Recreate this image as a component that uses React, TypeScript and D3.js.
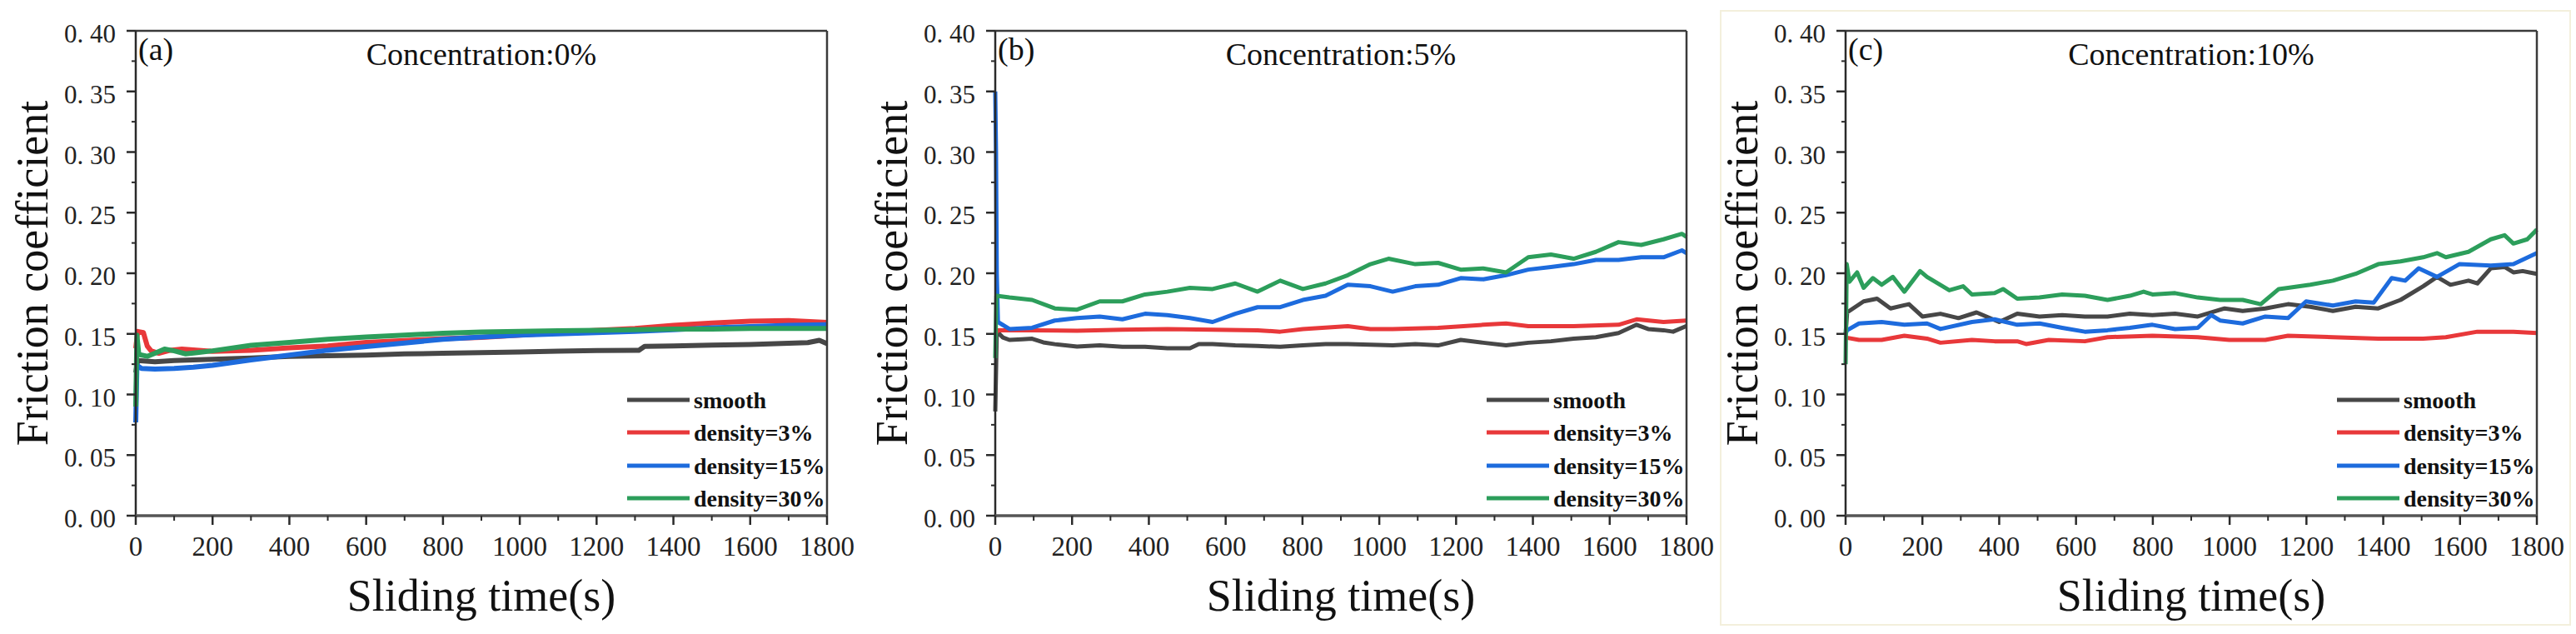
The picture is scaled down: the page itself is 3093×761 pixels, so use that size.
import React from 'react';
import * as d3 from 'd3';

type Pt = [number, number];

// ---- data (time s, friction coefficient) ----
const seriesNames = ['smooth', 'density=3%', 'density=15%', 'density=30%'];
const seriesColors = ['#474747', '#e8383a', '#1d6bdd', '#2c9e5b'];

const panelTags = ['(a)', '(b)', '(c)'];
const panelTitles = ['Concentration:0%', 'Concentration:5%', 'Concentration:10%'];

const xTicks = [0, 200, 400, 600, 800, 1000, 1200, 1400, 1600, 1800];
const xMinor = [100, 300, 500, 700, 900, 1100, 1300, 1500, 1700];
const yTicks = [0, 0.05, 0.1, 0.15, 0.2, 0.25, 0.3, 0.35, 0.4];
const yMinor = [0.025, 0.075, 0.125, 0.175, 0.225, 0.275, 0.325, 0.375];

const smoothA: Pt[] = [[0, 0.118], [5, 0.128], [50, 0.127], [100, 0.128], [200, 0.129], [300, 0.130], [400, 0.1315], [500, 0.132], [600, 0.1325], [700, 0.1335], [800, 0.134], [900, 0.1345], [1000, 0.135], [1100, 0.1358], [1200, 0.1362], [1310, 0.1365], [1325, 0.1397], [1400, 0.140], [1500, 0.1408], [1600, 0.1412], [1700, 0.1422], [1750, 0.1428], [1780, 0.1447], [1800, 0.142]];
const d3A: Pt[] = [[0, 0.138], [5, 0.152], [20, 0.151], [30, 0.140], [40, 0.136], [60, 0.134], [90, 0.1365], [120, 0.1375], [200, 0.1355], [300, 0.1365], [400, 0.1385], [500, 0.140], [600, 0.143], [700, 0.1445], [800, 0.146], [900, 0.147], [1000, 0.149], [1100, 0.151], [1200, 0.153], [1300, 0.1545], [1400, 0.157], [1500, 0.159], [1600, 0.1605], [1700, 0.161], [1800, 0.1595]];
const d15A: Pt[] = [[0, 0.077], [3, 0.124], [15, 0.1215], [50, 0.121], [100, 0.1215], [150, 0.1225], [200, 0.124], [300, 0.1285], [400, 0.1325], [500, 0.1365], [600, 0.1395], [700, 0.1425], [800, 0.1455], [900, 0.1475], [1000, 0.149], [1100, 0.150], [1200, 0.151], [1300, 0.152], [1400, 0.1535], [1500, 0.155], [1600, 0.156], [1700, 0.157], [1800, 0.1575]];
const d30A: Pt[] = [[0, 0.09], [3, 0.149], [8, 0.133], [30, 0.1315], [50, 0.134], [75, 0.1375], [100, 0.136], [130, 0.1335], [160, 0.1345], [200, 0.136], [300, 0.1405], [400, 0.143], [500, 0.1455], [600, 0.1475], [700, 0.149], [800, 0.1505], [900, 0.1515], [1000, 0.152], [1100, 0.1525], [1200, 0.153], [1300, 0.1535], [1400, 0.154], [1500, 0.154], [1600, 0.1545], [1700, 0.1545], [1800, 0.1545]];

const smoothB: Pt[] = [[0, 0.086], [4, 0.152], [20, 0.147], [37, 0.145], [70, 0.1455], [96, 0.146], [125, 0.143], [155, 0.1415], [213, 0.1395], [272, 0.1405], [331, 0.1393], [390, 0.1393], [448, 0.1382], [507, 0.1382], [530, 0.1416], [566, 0.1416], [625, 0.1405], [683, 0.140], [742, 0.1393], [801, 0.1405], [860, 0.1416], [918, 0.1416], [977, 0.141], [1035, 0.1405], [1094, 0.1416], [1153, 0.1405], [1212, 0.145], [1271, 0.1427], [1330, 0.1405], [1388, 0.1427], [1447, 0.1439], [1506, 0.146], [1564, 0.1473], [1623, 0.1507], [1670, 0.1575], [1700, 0.154], [1740, 0.153], [1765, 0.1518], [1800, 0.1565]];
const d3B: Pt[] = [[0, 0.15], [7, 0.153], [96, 0.153], [213, 0.1525], [331, 0.1535], [448, 0.154], [566, 0.1535], [683, 0.153], [742, 0.1518], [801, 0.154], [918, 0.1564], [977, 0.154], [1035, 0.154], [1153, 0.155], [1271, 0.1575], [1330, 0.1586], [1388, 0.1564], [1506, 0.1564], [1623, 0.1575], [1670, 0.162], [1740, 0.1598], [1800, 0.161]];
const d15B: Pt[] = [[0, 0.35], [2, 0.30], [4, 0.20], [7, 0.1598], [37, 0.154], [96, 0.155], [155, 0.161], [213, 0.163], [272, 0.1643], [331, 0.162], [390, 0.1666], [448, 0.1655], [507, 0.163], [566, 0.1598], [625, 0.1666], [683, 0.172], [742, 0.172], [801, 0.178], [860, 0.1814], [918, 0.1905], [977, 0.1893], [1035, 0.1848], [1094, 0.1893], [1153, 0.1905], [1212, 0.196], [1271, 0.195], [1330, 0.1984], [1388, 0.203], [1447, 0.2052], [1506, 0.2075], [1564, 0.211], [1623, 0.211], [1682, 0.2132], [1740, 0.2132], [1788, 0.2189], [1800, 0.2166]];
const d30B: Pt[] = [[0, 0.13], [3, 0.1814], [37, 0.180], [96, 0.178], [155, 0.171], [213, 0.170], [272, 0.1768], [331, 0.1768], [390, 0.1825], [448, 0.1848], [507, 0.188], [566, 0.187], [625, 0.1916], [683, 0.1848], [742, 0.1939], [801, 0.187], [860, 0.1916], [918, 0.1984], [977, 0.2075], [1024, 0.212], [1094, 0.2075], [1153, 0.2086], [1212, 0.203], [1271, 0.204], [1330, 0.2007], [1388, 0.2132], [1447, 0.2155], [1506, 0.212], [1564, 0.2177], [1623, 0.2257], [1682, 0.2234], [1740, 0.228], [1788, 0.2325], [1800, 0.230]];

const smoothC: Pt[] = [[0, 0.15], [4, 0.1677], [47, 0.1768], [82, 0.179], [117, 0.171], [165, 0.1745], [200, 0.1643], [247, 0.1666], [294, 0.163], [341, 0.1677], [400, 0.1598], [447, 0.1666], [505, 0.1643], [564, 0.1655], [623, 0.1643], [682, 0.1643], [740, 0.1666], [799, 0.1655], [858, 0.1666], [917, 0.1643], [987, 0.171], [1034, 0.1689], [1093, 0.171], [1152, 0.1745], [1210, 0.1723], [1269, 0.1689], [1328, 0.1723], [1387, 0.171], [1445, 0.178], [1504, 0.1893], [1540, 0.197], [1575, 0.1905], [1622, 0.1939], [1645, 0.1916], [1680, 0.2041], [1716, 0.2052], [1739, 0.2007], [1763, 0.2018], [1800, 0.1995]];
const d3C: Pt[] = [[0, 0.147], [35, 0.145], [94, 0.145], [153, 0.1484], [212, 0.1461], [247, 0.1427], [329, 0.145], [388, 0.1439], [447, 0.1439], [470, 0.1416], [529, 0.145], [623, 0.1439], [682, 0.1473], [799, 0.1484], [917, 0.1473], [999, 0.145], [1093, 0.145], [1152, 0.1484], [1269, 0.1473], [1387, 0.1461], [1504, 0.1461], [1563, 0.1473], [1645, 0.1518], [1739, 0.1518], [1800, 0.1507]];
const d15C: Pt[] = [[0, 0.15], [4, 0.153], [35, 0.1586], [94, 0.1598], [153, 0.1575], [212, 0.1586], [247, 0.154], [329, 0.1598], [388, 0.162], [447, 0.1575], [505, 0.1586], [564, 0.155], [623, 0.1518], [682, 0.153], [740, 0.155], [799, 0.1575], [858, 0.154], [917, 0.155], [952, 0.1655], [975, 0.161], [1034, 0.1586], [1093, 0.1643], [1152, 0.163], [1199, 0.1768], [1269, 0.1734], [1328, 0.1768], [1375, 0.1757], [1422, 0.196], [1457, 0.1939], [1492, 0.2041], [1540, 0.197], [1598, 0.2075], [1680, 0.2064], [1739, 0.2075], [1800, 0.2166]];
const d30C: Pt[] = [[0, 0.125], [3, 0.2075], [10, 0.193], [30, 0.2007], [47, 0.188], [71, 0.196], [94, 0.1905], [123, 0.197], [153, 0.1848], [194, 0.2018], [212, 0.197], [270, 0.186], [306, 0.1893], [329, 0.1825], [388, 0.1836], [410, 0.187], [447, 0.179], [505, 0.180], [564, 0.1825], [623, 0.1814], [682, 0.178], [740, 0.1814], [776, 0.1848], [799, 0.1825], [858, 0.1836], [917, 0.180], [975, 0.178], [1034, 0.178], [1081, 0.1745], [1128, 0.187], [1152, 0.188], [1210, 0.1905], [1269, 0.1939], [1328, 0.1995], [1387, 0.2075], [1445, 0.2098], [1504, 0.2132], [1540, 0.2166], [1563, 0.2132], [1622, 0.2177], [1680, 0.228], [1716, 0.2314], [1739, 0.2245], [1775, 0.228], [1800, 0.236]];

const panelSeries: Pt[][][] = [
  [smoothA, d3A, d15A, d30A],
  [smoothB, d3B, d15B, d30B],
  [smoothC, d3C, d15C, d30C],
];

// ---- layout ----
const W = 3093;
const H = 761;
const plotLefts = [163, 1195, 2216];
const plotW = 830;
const plotTop = 37;
const plotBottom = 619;
const FONT = "'Liberation Serif', 'Times New Roman', serif";

const fmtY = (d: number) => d.toFixed(2).replace('.', '. ');

const Panel: React.FC<{ idx: number }> = ({ idx }) => {
  const left = plotLefts[idx];
  const right = left + plotW;
  const x = d3.scaleLinear().domain([0, 1800]).range([left, right]);
  const y = d3.scaleLinear().domain([0, 0.4]).range([plotBottom, plotTop]);
  const line = d3.line<Pt>().x(d => x(d[0])).y(d => y(d[1]));
  const series = panelSeries[idx];
  const cx = (left + right) / 2;
  const legendRows = [480, 519, 559, 598];

  return (
    <g>
      {series.map((s, i) => (
        <path key={i} d={line(s) || ''} fill="none" stroke={seriesColors[i]}
          strokeWidth={idx === 0 ? 6 : 5} strokeLinejoin="round" />
      ))}

      {/* frame */}
      <line x1={left} x2={right} y1={plotTop} y2={plotTop} stroke="#3a3a3a" strokeWidth={2.5} />
      <line x1={right} x2={right} y1={plotTop} y2={plotBottom} stroke="#3a3a3a" strokeWidth={2.5} />
      <line x1={left} x2={left} y1={plotTop} y2={plotBottom + 1} stroke="#2a2a2a" strokeWidth={2.5} />
      <line x1={left} x2={right} y1={plotBottom} y2={plotBottom} stroke="#555" strokeWidth={3.5} />

      {/* y ticks */}
      {yTicks.map(t => (
        <g key={'y' + t}>
          <line x1={left - 11} x2={left} y1={y(t)} y2={y(t)} stroke="#2a2a2a" strokeWidth={2.5} />
          <text x={left - 24} y={y(t) + 14} textAnchor="end" fontSize={31} fill="#222" fontFamily={FONT}
            style={{ whiteSpace: 'pre' }}>{fmtY(t)}</text>
        </g>
      ))}
      {yMinor.map(t => (
        <line key={'ym' + t} x1={left - 5} x2={left} y1={y(t)} y2={y(t)} stroke="#2a2a2a" strokeWidth={2} />
      ))}

      {/* x ticks */}
      {xTicks.map(t => (
        <g key={'x' + t}>
          <line x1={x(t)} x2={x(t)} y1={plotBottom} y2={plotBottom + 11} stroke="#2a2a2a" strokeWidth={2.5} />
          <text x={x(t)} y={667} textAnchor="middle" fontSize={33} fill="#222" fontFamily={FONT}>{t}</text>
        </g>
      ))}
      {xMinor.map(t => (
        <line key={'xm' + t} x1={x(t)} x2={x(t)} y1={plotBottom} y2={plotBottom + 6} stroke="#2a2a2a" strokeWidth={2} />
      ))}

      {/* titles */}
      <text x={left + 3} y={72} fontSize={38} fill="#111" fontFamily={FONT}>{panelTags[idx]}</text>
      <text x={cx} y={78} textAnchor="middle" fontSize={38} fill="#111" fontFamily={FONT}>{panelTitles[idx]}</text>
      <text x={cx} y={733} textAnchor="middle" fontSize={54} fill="#111" fontFamily={FONT}>Sliding time(s)</text>
      <text transform={`translate(${left - 106},${(plotTop + plotBottom) / 2}) rotate(-90)`} textAnchor="middle"
        fontSize={54} fill="#111" fontFamily={FONT}>Friction coefficient</text>

      {/* legend */}
      {seriesNames.map((n, i) => (
        <g key={n}>
          <line x1={left + 590} x2={left + 665} y1={legendRows[i]} y2={legendRows[i]} stroke={seriesColors[i]} strokeWidth={5} />
          <text x={left + 670} y={legendRows[i] + 10} fontSize={28} fontWeight="bold" fill="#111" fontFamily={FONT}>{n}</text>
        </g>
      ))}
    </g>
  );
};

export default function App() {
  return (
    <svg width={W} height={H} viewBox={`0 0 ${W} ${H}`}
      style={{ position: 'absolute', left: 0, top: 0, display: 'block', background: '#fff' }}>
      <rect x={0} y={0} width={W} height={H} fill="#fff" />
      <rect x={2066} y={13} width={1020} height={737} fill="none" stroke="#f3efdc" strokeWidth={2} />
      {[0, 1, 2].map(i => <Panel key={i} idx={i} />)}
    </svg>
  );
}
